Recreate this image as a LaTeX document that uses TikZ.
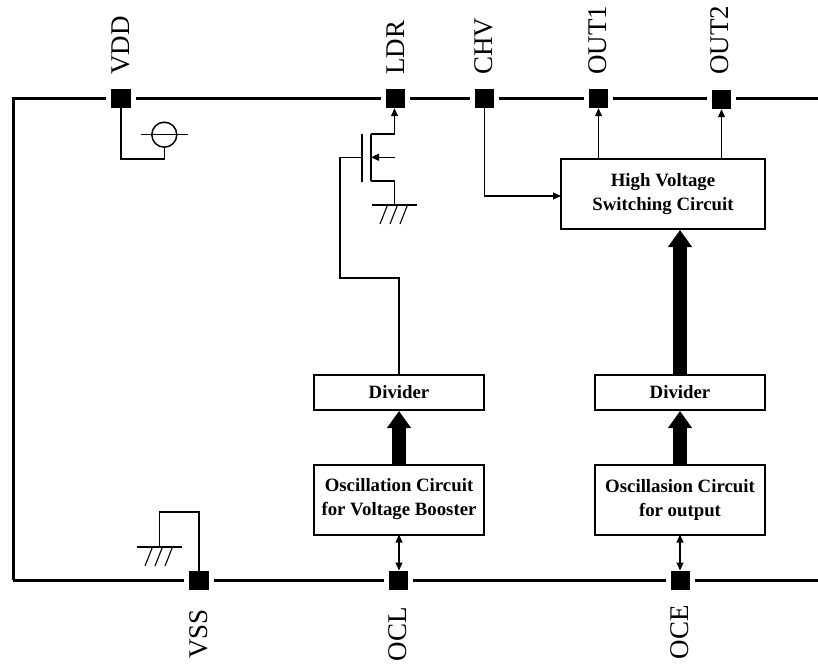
\documentclass[tikz,border=0pt]{standalone}
\usepackage{fontspec}
\newfontfamily\blockfont{Liberation Serif}
\usetikzlibrary{arrows.meta}
\tikzset{
  x=1pt,y=-1pt,
  pad/.style={fill=black,draw=none,minimum width=19.5pt,minimum height=19pt,inner sep=0pt,outer sep=0pt},
  bus/.style={line width=3pt,line join=miter},
  gap/.style={shorten <=5pt,shorten >=5pt},
  gapend/.style={shorten >=5pt},
  gapstart/.style={shorten <=5pt},
  wire/.style={line width=1.1pt},
  tiparrow/.style={wire,-{Triangle[length=8pt,width=7pt]}},
  biarrow/.style={wire,{Triangle[length=8pt,width=7pt]}-{Triangle[length=8pt,width=7pt]}},
  fat/.style={line width=13.5pt,-{Triangle[length=17pt,width=23pt]},shorten >=1pt},
  block/.style={draw=black,line width=2pt,fill=white,minimum width=170pt,inner sep=0pt,outer sep=0pt,align=center,font=\blockfont\bfseries\fontsize{18.8}{24}\selectfont},
  pinlabel/.style={rotate=90,inner sep=0pt,font=\blockfont\fontsize{27}{27}\selectfont},
  gnd/.pic={
    \draw[line width=2pt] (-22.5,0) -- (22.5,0);
    \foreach \t/\b in {-7/-14.5,3/-4.5,13/5.5} \draw[wire] (\t,0) -- (\b,19);
  }
}
\begin{document}
\begin{tikzpicture}
\useasboundingbox (0,0) rectangle (818,663);
\fill[white] (0,0) rectangle (818,663);
% pads
\node[pad] (vdd) at (121,98.7) {};
\node[pad] (ldr) at (395.5,98.7) {};
\node[pad] (chv) at (484.5,98.7) {};
\node[pad] (out1) at (598.5,98.7) {};
\node[pad] (out2) at (721.5,99.7) {};
\node[pad] (vss) at (199,580.5) {};
\node[pad] (ocl) at (398.5,580) {};
\node[pad] (oce) at (680.5,580) {};
% bus end points
\coordinate (tl) at (13,98.7);
\coordinate (bl) at (13,580);
\coordinate (tr) at (818,98.7);
\coordinate (br) at (818,580);
% labels
\node[pinlabel,anchor=west] (lvdd) at (121,75) {VDD};
\node[pinlabel,anchor=west] (lldr) at (396,75) {LDR};
\node[pinlabel,anchor=west] (lchv) at (484,75) {CHV};
\node[pinlabel,anchor=west] (lout1) at (598,75) {OUT1};
\node[pinlabel,anchor=west] (lout2) at (720,75) {OUT2};
\node[pinlabel,anchor=east] (lvss) at (199,609) {VSS};
\node[pinlabel,anchor=east] (locl) at (398,607) {OCL};
\node[pinlabel,anchor=east] (loce) at (680,605) {OCE};
% blocks
\node[block,minimum width=204pt,minimum height=70pt] (hv) at (663,194) {High Voltage\\Switching Circuit};
\node[block,minimum height=35pt] (div1) at (399,392.5) {Divider};
\node[block,minimum height=35pt] (div2) at (680,392.5) {Divider};
\node[block,minimum height=70pt] (osc1) at (399,499.5) {Oscillation Circuit\\for Voltage Booster};
\node[block,minimum height=70pt] (osc2) at (680,499.5) {Oscillasion Circuit\\for output};
% buses
\draw[bus,gapend] (bl) -- (tl) -- (vdd);
\draw[bus,gapend] (tl |- bl) -- (vss.west |- bl);
\draw[bus,gap] (vdd) -- (ldr);
\draw[bus,gap] (ldr) -- (chv);
\draw[bus,gap] (chv) -- (out1);
\draw[bus,gap] (out1) -- (out1 -| out2.west);
\draw[bus,gapstart] (out2.east |- tr) -- (tr);
\draw[bus,gap] (vss.east |- bl) -- (ocl);
\draw[bus,gap] (ocl) -- (oce);
\draw[bus,gapstart] (oce) -- (br);
% VDD symbol
\node[draw,circle,line width=1.5pt,minimum size=25pt,inner sep=0pt,outer sep=0pt] (sup) at (164.3,134.7) {};
\coordinate (supl) at (140.5,134.7);
\coordinate (supr) at (188,134.7);
\draw[line width=1.5pt] (supl) -- (supr);
\coordinate (supc) at (121,159);
\draw[wire] (vdd.south) -- (supc) -| (sup.south);
% transistor
\coordinate (gate1) at (362,134);
\coordinate (gate2) at (362,182);
\coordinate (ch1) at (371,134);
\coordinate (ch2) at (371,181);
\coordinate (chm) at (371,157.3);
\coordinate (bulk) at (395,157.3);
\coordinate (draincorner) at (394.5,134);
\coordinate (srccorner) at (394.5,181);
\coordinate (gatebend) at (340,157.3);
\coordinate (gatein) at (362,157.3);
\coordinate (gndm) at (394.5,205);
\draw[line width=1.8pt] (gate1) -- (gate2);
\draw[line width=1.8pt] (ch1) -- (ch2);
\draw[wire] (ch1) -- (draincorner);
\draw[tiparrow] (draincorner) -- (draincorner |- ldr.south);
\draw[wire] (ch2) -- (srccorner) -- (gndm);
\draw[tiparrow] (bulk) -- (chm);
\pic at (gndm) {gnd};
\coordinate (gatelow) at (340,278);
\draw[wire] (gatein) -- (gatebend) -- (gatelow) -| (div1.north);
% CHV
\draw[tiparrow] (chv.south) |- (hv.west |- 0,196);
% outputs
\draw[tiparrow] (out1.south |- hv.north) -- (out1.south);
\draw[tiparrow] (out2.south |- hv.north) -- (out2.south);
% thick arrows
\draw[fat] (osc1.north) -- (div1.south);
\draw[fat] (osc2.north) -- (div2.south);
\draw[fat] (div2.north) -- (div2.north |- hv.south);
% bidirectional
\draw[biarrow] (osc1.south) -- (osc1.south |- ocl.north);
\draw[biarrow] (osc2.south) -- (osc2.south |- oce.north);
% VSS ground
\coordinate (vssg) at (159.5,547);
\coordinate (vsstop) at (159.5,512);
\draw[wire] (vssg) -- (vsstop) -| (vss.north);
\pic at (vssg) {gnd};
\end{tikzpicture}
\end{document}
